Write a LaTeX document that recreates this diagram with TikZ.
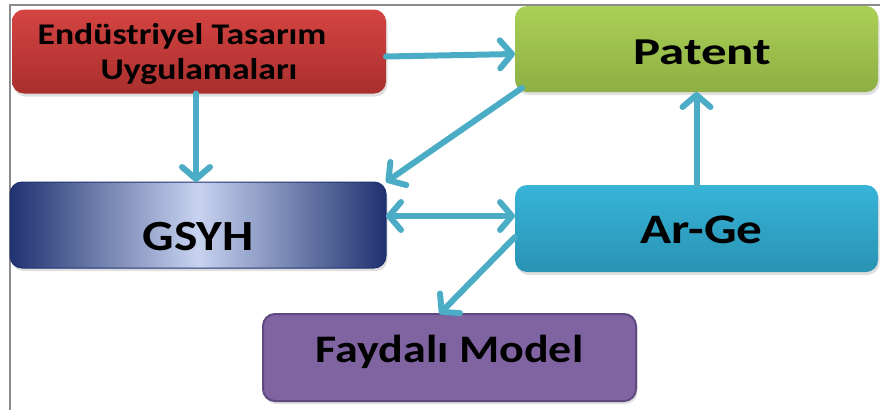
\documentclass[tikz,border=0pt]{standalone}
\usepackage{fontspec}
\setmainfont{Carlito}
\usetikzlibrary{arrows.meta,shadows}
\definecolor{arrowc}{HTML}{4BACC6}
\definecolor{frameg}{HTML}{8C8C8C}
\definecolor{redT}{HTML}{D44442}
\definecolor{redB}{HTML}{A92F2D}
\definecolor{grnT}{HTML}{ABD056}
\definecolor{grnB}{HTML}{8DAF44}
\definecolor{bluD}{HTML}{1F3270}
\definecolor{bluL}{HTML}{C8D3F0}
\definecolor{cyaT}{HTML}{37B4D8}
\definecolor{cyaB}{HTML}{2993B3}
\definecolor{purF}{HTML}{8064A2}
\definecolor{purD}{HTML}{5E4A80}
\begin{document}
\begin{tikzpicture}[x=1pt,y=-1pt,
  box/.style={rounded corners=12pt, inner sep=0pt, outer sep=0pt, align=center,
    drop shadow={shadow xshift=1.5pt, shadow yshift=-3pt, opacity=0.25}},
  conn/.style={draw=arrowc, line width=6pt, line cap=round,
    -{Straight Barb[length=12pt,width=28pt,round]}},
  conn2/.style={draw=arrowc, line width=6pt,
    {Straight Barb[length=12pt,width=28pt,round]}-{Straight Barb[length=12pt,width=28pt,round]}}
]
\useasboundingbox (0,0) rectangle (880,410);
% frame
\draw[frameg, line width=1.6pt] (10,410) -- (10,5) -- (880,5);

\node[box, minimum width=374pt, minimum height=84pt, top color=redT, bottom color=redB,
  font=\fontsize{30}{35}\selectfont\bfseries] (red) at (199,51.5)
  {\rule{0pt}{27pt}\scalebox{1.19}[1]{Endüstriyel Tasarım}\hspace*{34pt}\\\scalebox{1.19}[1]{Uygulamaları}};

\node[box, minimum width=363pt, minimum height=86pt, top color=grnT, bottom color=grnB,
  font=\fontsize{38}{40}\selectfont\bfseries, text height=31.4pt, text depth=0pt] (pat) at (696.5,49)
  {\hspace*{12pt}\scalebox{1.34}[1]{Patent}};

\node[box, minimum width=376pt, minimum height=86pt, left color=bluD, right color=bluD, middle color=bluL,
  draw=bluD, line width=1pt,
  font=\fontsize{43}{45}\selectfont\bfseries, text height=50pt, text depth=0pt] (gsyh) at (198,225)
  {\scalebox{1.15}[1]{GSYH}};

\node[box, minimum width=363pt, minimum height=87pt, top color=cyaT, bottom color=cyaB,
  font=\fontsize{42}{44}\selectfont\bfseries, text height=30pt, text depth=0pt] (arge) at (696.5,228.5)
  {\hspace*{10pt}\scalebox{1.22}[1]{Ar-Ge}};

\node[box, minimum width=373pt, minimum height=87pt, fill=purF, draw=purD, line width=2pt, drop shadow={opacity=0},
  font=\fontsize{39}{41}\selectfont\bfseries, text height=9pt, text depth=0pt] (fay) at (449.5,357.5)
  {\scalebox{1.18}[1]{Faydalı Model}};

% connectors
\draw[conn] ([yshift=-5pt]red.east) -- ([yshift=-5pt]pat.west);
\draw[conn] ([xshift=-3pt]red.south) -- ([xshift=-2pt]gsyh.north);
\draw[conn] ([xshift=7pt,yshift=4pt]pat.south west) -- (gsyh.north east);
\draw[conn2] ([yshift=9pt]gsyh.east) -- ([yshift=12.5pt]arge.west);
\draw[conn] (arge.north) -- (pat.south);
\draw[conn] ([yshift=-8.5pt]arge.west) -- ([xshift=-10pt]fay.north);
\end{tikzpicture}
\end{document}
